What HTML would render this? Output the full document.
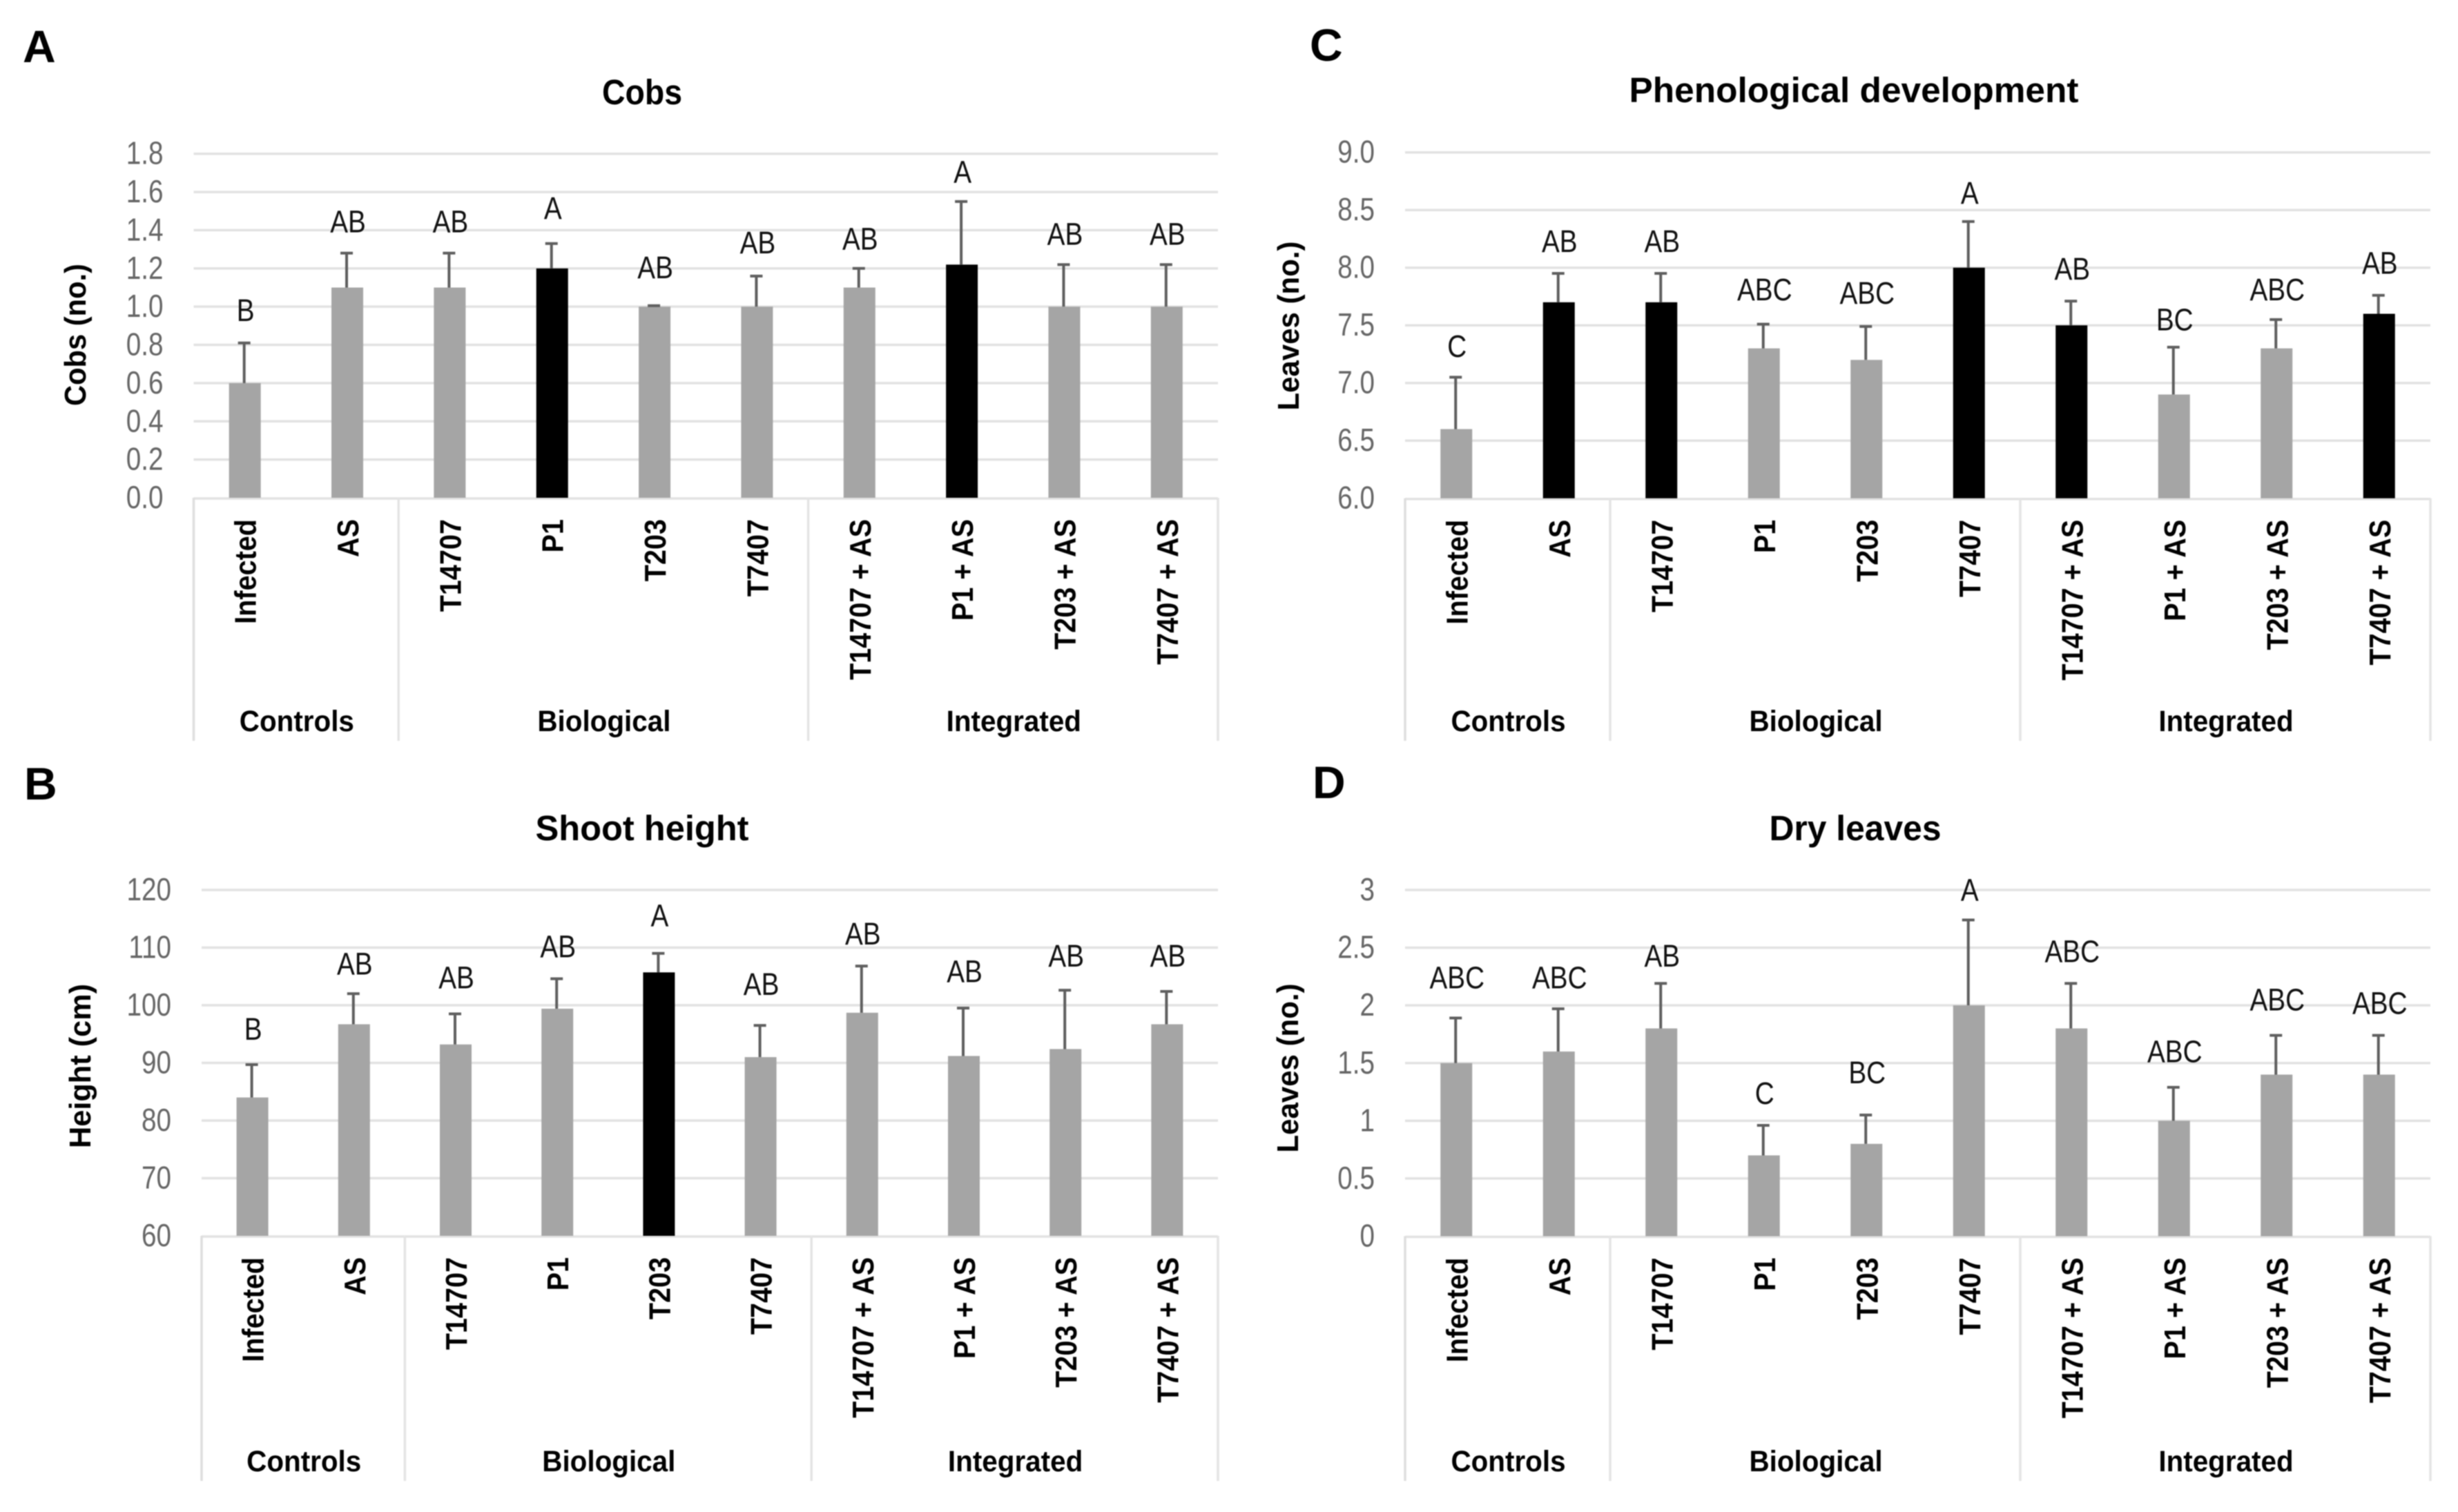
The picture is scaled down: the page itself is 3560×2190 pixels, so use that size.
<!DOCTYPE html>
<html lang="en">
<head>
<meta charset="utf-8">
<title>Four bar charts: cobs, shoot height, phenological development, dry leaves</title>
<style>
html,body{margin:0;padding:0;background:#fff;}
body{width:3560px;height:2190px;overflow:hidden;}
svg{display:block;filter:blur(0.7px);font-family:"Liberation Sans",Arial,sans-serif;}
</style>
</head>
<body>
<svg id="figure" xmlns="http://www.w3.org/2000/svg" width="3560" height="2190" viewBox="0 0 3560 2190"></svg>
<script>
// Shared category data
const categories = ["Infected","AS","T14707","P1","T203","T7407","T14707 + AS","P1 + AS","T203 + AS","T7407 + AS"];
const groupNames = ["Controls","Biological","Integrated"];
const groupSizes = [2,4,4];

// Panel A: Cobs
const cobsTicks = ["0.0","0.2","0.4","0.6","0.8","1.0","1.2","1.4","1.6","1.8"];
const cobsValues = [0.6,1.1,1.1,1.2,1.0,1.0,1.1,1.22,1.0,1.0];
const cobsErrorTops = [0.81,1.28,1.28,1.33,1.005,1.16,1.20,1.55,1.22,1.22];
const cobsLetters = ["B","AB","AB","A","AB","AB","AB","A","AB","AB"];
const cobsLetterLevels = [0.975,1.44,1.44,1.51,1.20,1.33,1.35,1.70,1.375,1.375];
const cobsHighlighted = [0,0,0,1,0,0,0,1,0,0];

// Panel B: Shoot height
const heightTicks = ["60","70","80","90","100","110","120"];
const heightValues = [84,96.7,93.2,99.4,105.7,91,98.7,91.2,92.4,96.7];
const heightErrorTops = [89.7,102,98.5,104.6,109,96.5,106.8,99.5,102.6,102.4];
const heightLetters = ["B","AB","AB","AB","A","AB","AB","AB","AB","AB"];
const heightLetterLevels = [95.7,107,104.6,110,115.4,103.5,112.2,105.7,108.4,108.4];
const heightHighlighted = [0,0,0,0,1,0,0,0,0,0];

// Panel C: Phenological development
const phenoTicks = ["6.0","6.5","7.0","7.5","8.0","8.5","9.0"];
const phenoValues = [6.6,7.7,7.7,7.3,7.2,8.0,7.5,6.9,7.3,7.6];
const phenoErrorTops = [7.05,7.95,7.95,7.51,7.49,8.4,7.71,7.31,7.55,7.76];
const phenoLetters = ["C","AB","AB","ABC","ABC","A","AB","BC","ABC","AB"];
const phenoLetterLevels = [7.31,8.22,8.22,7.8,7.77,8.64,7.98,7.54,7.8,8.03];
const phenoHighlighted = [0,1,1,0,0,1,1,0,0,1];

// Panel D: Dry leaves
const dryTicks = ["0","0.5","1","1.5","2","2.5","3"];
const dryValues = [1.5,1.6,1.8,0.7,0.8,2.0,1.8,1.0,1.4,1.4];
const dryErrorTops = [1.89,1.97,2.19,0.96,1.05,2.74,2.19,1.29,1.74,1.74];
const dryLetters = ["ABC","ABC","AB","C","BC","A","ABC","ABC","ABC","ABC"];
const dryLetterLevels = [2.23,2.23,2.42,1.23,1.41,2.99,2.46,1.59,2.04,2.01];
const dryHighlighted = [0,0,0,0,0,0,0,0,0,0];

const SVG_NS = "http://www.w3.org/2000/svg";
const figure = document.getElementById("figure");

function mk(tag, attrs, parent, content) {
  const el = document.createElementNS(SVG_NS, tag);
  for (const k in attrs) el.setAttribute(k, attrs[k]);
  if (content !== undefined) el.textContent = content;
  parent.appendChild(el);
  return el;
}

function drawPanel(p) {
  const g = mk("g", {}, figure);
  
  

  const tickNums = p.ticks.map(Number);
  const vMin = tickNums[0];
  const vMax = tickNums[tickNums.length - 1];
  const yScale = v => p.yBase - (v - vMin) / (vMax - vMin) * (p.yBase - p.yTop);
  const step = (p.right - p.left) / categories.length;
  const xScale = i => p.left + (i + 0.5) * step;

  // Panel letter
  const panelLetter = mk("text", {x: p.letterX, y: p.letterY, "font-size": 66, "font-weight": 700, fill: "#000"}, g, p.letter);
  
  

  // Title
  const title = mk("text", {x: p.titleX, y: p.titleY, "font-size": 51, "font-weight": 700, fill: "#000", "text-anchor": "middle", textLength: p.titleW, lengthAdjust: "spacingAndGlyphs"}, g, p.title);
  
  

  // Y axis title
  const yTitle = mk("text", {transform: "translate(" + p.yTitleX + "," + p.yTitleY + ") rotate(-90)", "font-size": 44, "font-weight": 700, fill: "#000", "text-anchor": "middle", textLength: p.yTitleW, lengthAdjust: "spacingAndGlyphs"}, g, p.yTitle);
  
  

  // Gridlines and y ticks
  p.ticks.forEach((t, i) => {
    const y = yScale(tickNums[i]);
    if (i > 0) {
      const grid = mk("line", {x1: p.left, x2: p.right, y1: y, y2: y, stroke: "#e2e2e2", "stroke-width": 3.5}, g);
      
      
    }
    const tick = mk("text", {transform: "translate(" + (p.left - 44) + "," + (y + 15) + ") scale(0.84,1)", "font-size": 46, fill: "#666", "text-anchor": "end"}, g, t);
    
    
  });

  // Category axis frame with group dividers
  const axisLine = mk("line", {x1: p.left, x2: p.right, y1: p.yBase + 1, y2: p.yBase + 1, stroke: "#e2e2e2", "stroke-width": 3.5}, g);
  
  

  let cursor = 0;
  const edge0 = mk("line", {x1: p.left, x2: p.left, y1: p.yBase, y2: p.bottom, stroke: "#dedede", "stroke-width": 3.5}, g);
  
  
  groupNames.forEach((name, gi) => {
    const start = cursor;
    cursor += groupSizes[gi];
    const xA = p.left + start * step;
    const xB = p.left + cursor * step;
    const divider = mk("line", {x1: xB, x2: xB, y1: p.yBase, y2: p.bottom, stroke: "#e4e4e4", "stroke-width": 3.5}, g);
    
    
    const groupLabel = mk("text", {transform: "translate(" + ((xA + xB) / 2 + 1) + "," + (p.bottom - 14) + ") scale(0.94,1)", "font-size": 43, "font-weight": 700, fill: "#000", "text-anchor": "middle"}, g, name);
    
    
  });

  // Bars, error bars, letters, category labels
  categories.forEach((cat, i) => {
    const cx = xScale(i);
    const yTopBar = yScale(p.values[i]);
    const yErr = yScale(p.errorTops[i]);

    const bar = mk("rect", {x: cx - 23, y: yTopBar, width: 46, height: p.yBase - yTopBar, fill: p.highlighted[i] ? "#000" : "#a5a5a5"}, g);
    
    

    const stem = mk("line", {x1: cx - 1, x2: cx - 1, y1: yTopBar, y2: yErr, stroke: "#5f5f5f", "stroke-width": 4}, g);
    
    

    const cap = mk("line", {x1: cx - 10, x2: cx + 8, y1: yErr, y2: yErr, stroke: "#5f5f5f", "stroke-width": 4}, g);
    
    

    const letter = mk("text", {transform: "translate(" + (cx + 1) + "," + (yScale(p.letterLevels[i]) + 14) + ") scale(0.86,1)", "font-size": 45, fill: "#111", "text-anchor": "middle"}, g, p.letters[i]);
    
    

    const catLabel = mk("text", {transform: "translate(" + (cx + 16) + "," + (p.yBase + 31) + ") rotate(-90) scale(0.9,1)", "font-size": 44, "font-weight": 700, fill: "#000", "text-anchor": "end"}, g, cat);
    
    
  });
}

drawPanel({letter: "A", letterX: 33, letterY: 90, title: "Cobs", titleX: 930, titleY: 151, titleW: 116,
  yTitle: "Cobs (no.)", yTitleX: 124, yTitleY: 485, yTitleW: 206,
  left: 280.5, right: 1764, yTop: 222.7, yBase: 721, bottom: 1073,
  ticks: cobsTicks, values: cobsValues, errorTops: cobsErrorTops, letters: cobsLetters, letterLevels: cobsLetterLevels, highlighted: cobsHighlighted});

drawPanel({letter: "B", letterX: 35, letterY: 1158, title: "Shoot height", titleX: 930, titleY: 1217, titleW: 309,
  yTitle: "Height (cm)", yTitleX: 131, yTitleY: 1544, yTitleW: 238,
  left: 292, right: 1764, yTop: 1289, yBase: 1790, bottom: 2145,
  ticks: heightTicks, values: heightValues, errorTops: heightErrorTops, letters: heightLetters, letterLevels: heightLetterLevels, highlighted: heightHighlighted});

drawPanel({letter: "C", letterX: 1897, letterY: 88, title: "Phenological development", titleX: 2685, titleY: 148, titleW: 651,
  yTitle: "Leaves (no.)", yTitleX: 1881, yTitleY: 472, yTitleW: 245,
  left: 2035, right: 3520, yTop: 220.7, yBase: 721.7, bottom: 1073,
  ticks: phenoTicks, values: phenoValues, errorTops: phenoErrorTops, letters: phenoLetters, letterLevels: phenoLetterLevels, highlighted: phenoHighlighted});

drawPanel({letter: "D", letterX: 1901, letterY: 1156, title: "Dry leaves", titleX: 2687, titleY: 1217, titleW: 249,
  yTitle: "Leaves (no.)", yTitleX: 1880, yTitleY: 1547, yTitleW: 245,
  left: 2035, right: 3520, yTop: 1289, yBase: 1790.5, bottom: 2145,
  ticks: dryTicks, values: dryValues, errorTops: dryErrorTops, letters: dryLetters, letterLevels: dryLetterLevels, highlighted: dryHighlighted});
</script>
</body>
</html>
